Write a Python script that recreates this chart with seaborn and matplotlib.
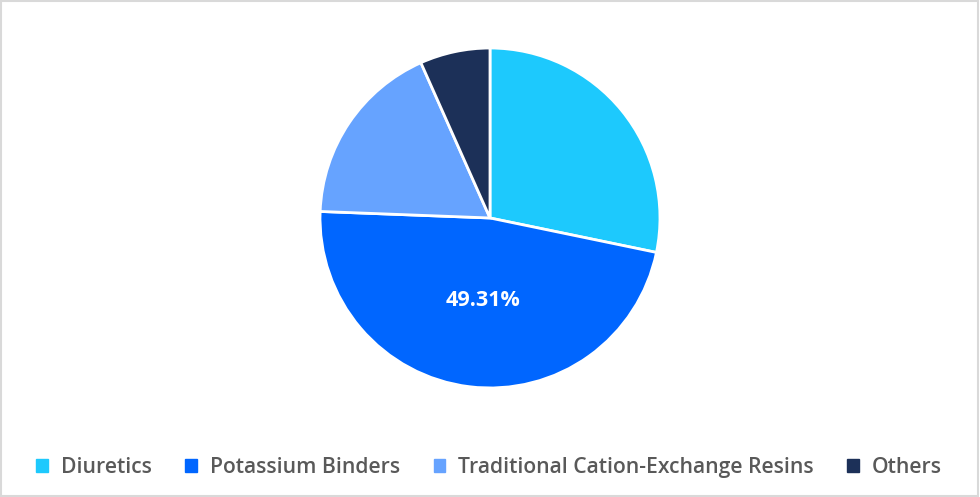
import matplotlib
matplotlib.use("Agg")
import matplotlib.pyplot as plt
import matplotlib.patches as mpatches
import numpy as np
import seaborn as sns

# segment shares (binders labelled 49.31)
segments = ["Diuretics", "Potassium Binders", "Traditional Cation-Exchange Resins", "Others"]
shares = [29.41, 49.31, 18.45, 6.94]
shown_labels = ["", "49.31%", "", ""]
colors = ["#1DC9FD", "#0066FF", "#66A3FF", "#1C3058"]

sns.set_theme(style="white")
plt.rcParams["font.family"] = ["Open Sans", "DejaVu Sans"]

fig = plt.figure(figsize=(9.8, 4.97), dpi=100)
ax = fig.add_axes([0.5 - 0.1735, 0.5614 - 0.342, 0.347, 0.684])

wedges, _ = ax.pie(shares, colors=sns.color_palette(colors), startangle=90, counterclock=False,
                   wedgeprops=dict(edgecolor="white", linewidth=2))
ax.set_xlim(-1.0, 1.0)
ax.set_ylim(-1.0, 1.0)
ax.set_aspect("equal")
ax.axis("off")

for w, lab in zip(wedges, shown_labels):
    if not lab:
        continue
    ang = np.deg2rad((w.theta1 + w.theta2) / 2)
    ax.text(0.49 * np.cos(ang) + 0.02, 0.49 * np.sin(ang), lab, ha="center", va="center",
            color="white", fontsize=15.5, fontweight="bold")

handles = [mpatches.Patch(color=c, label=s) for c, s in zip(colors, segments)]
leg = fig.legend(handles=handles, loc="center", bbox_to_anchor=(0.499, 0.059), ncol=4, frameon=False,
                 handlelength=0.55, handleheight=0.55, handletextpad=0.6, columnspacing=1.6,
                 prop={"size": 15.2, "weight": "semibold"})
for t in leg.get_texts():
    t.set_color("#595959")

# light frame around the whole chart
fig.patches.append(mpatches.Rectangle((0.001, 0.002), 0.997, 0.995, transform=fig.transFigure,
                                      fill=False, edgecolor="#D9D9D9", linewidth=1.5))

fig.savefig("out.png", dpi=100)
